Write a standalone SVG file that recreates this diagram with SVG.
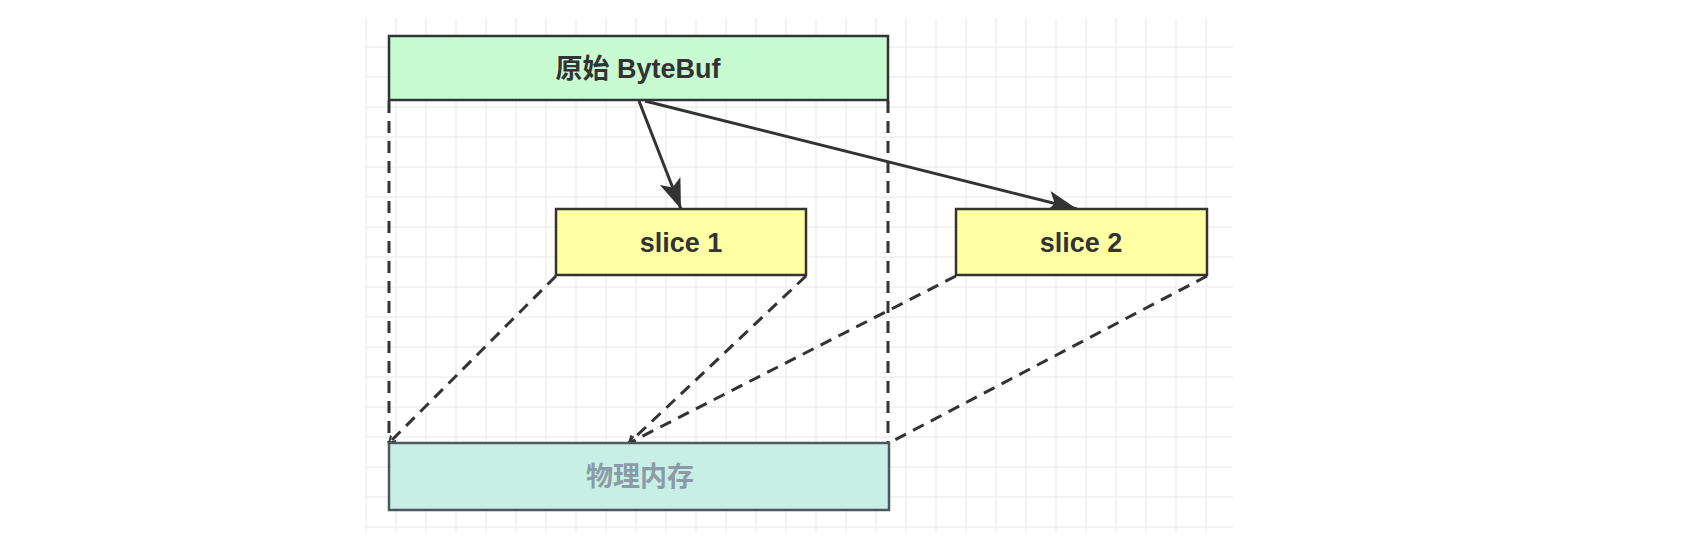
<svg xmlns="http://www.w3.org/2000/svg" width="1690" height="550" viewBox="0 0 1690 550">
<style>
.grid line{stroke:#efefef;stroke-width:1.5}
.box{stroke:#333333;stroke-width:2.5}
.lbl{font-family:"Liberation Sans","Noto Sans CJK SC",sans-serif;font-size:27px;font-weight:bold;fill:#333333;text-anchor:middle}
.solid{stroke:#333333;stroke-width:3;fill:none}
.dash{stroke:#333333;stroke-width:3;fill:none;stroke-dasharray:12 8}
</style>
<defs>
<marker id="block" markerUnits="userSpaceOnUse" markerWidth="34" markerHeight="26" refX="30" refY="11" orient="auto">
<path d="M0,0 L30,11 L0,22 L7,11 Z" fill="#333333"/>
</marker>
<marker id="open" markerUnits="userSpaceOnUse" markerWidth="10" markerHeight="10" refX="7" refY="4" orient="auto">
<path d="M0,0 L7,4 L0,8" fill="none" stroke="#333333" stroke-width="2"/>
</marker>
</defs>
<rect width="1690" height="550" fill="#ffffff"/>
<g class="grid">
<line x1="366" y1="18" x2="366" y2="532"/><line x1="396" y1="18" x2="396" y2="532"/><line x1="426" y1="18" x2="426" y2="532"/><line x1="456" y1="18" x2="456" y2="532"/><line x1="486" y1="18" x2="486" y2="532"/><line x1="516" y1="18" x2="516" y2="532"/><line x1="546" y1="18" x2="546" y2="532"/><line x1="576" y1="18" x2="576" y2="532"/><line x1="606" y1="18" x2="606" y2="532"/><line x1="636" y1="18" x2="636" y2="532"/><line x1="666" y1="18" x2="666" y2="532"/><line x1="696" y1="18" x2="696" y2="532"/><line x1="726" y1="18" x2="726" y2="532"/><line x1="756" y1="18" x2="756" y2="532"/><line x1="786" y1="18" x2="786" y2="532"/><line x1="816" y1="18" x2="816" y2="532"/><line x1="846" y1="18" x2="846" y2="532"/><line x1="876" y1="18" x2="876" y2="532"/><line x1="906" y1="18" x2="906" y2="532"/><line x1="936" y1="18" x2="936" y2="532"/><line x1="966" y1="18" x2="966" y2="532"/><line x1="996" y1="18" x2="996" y2="532"/><line x1="1026" y1="18" x2="1026" y2="532"/><line x1="1056" y1="18" x2="1056" y2="532"/><line x1="1086" y1="18" x2="1086" y2="532"/><line x1="1116" y1="18" x2="1116" y2="532"/><line x1="1146" y1="18" x2="1146" y2="532"/><line x1="1176" y1="18" x2="1176" y2="532"/><line x1="1206" y1="18" x2="1206" y2="532"/>
<line x1="366" y1="47" x2="1233" y2="47"/><line x1="366" y1="77" x2="1233" y2="77"/><line x1="366" y1="107" x2="1233" y2="107"/><line x1="366" y1="137" x2="1233" y2="137"/><line x1="366" y1="167" x2="1233" y2="167"/><line x1="366" y1="197" x2="1233" y2="197"/><line x1="366" y1="227" x2="1233" y2="227"/><line x1="366" y1="257" x2="1233" y2="257"/><line x1="366" y1="287" x2="1233" y2="287"/><line x1="366" y1="317" x2="1233" y2="317"/><line x1="366" y1="347" x2="1233" y2="347"/><line x1="366" y1="377" x2="1233" y2="377"/><line x1="366" y1="407" x2="1233" y2="407"/><line x1="366" y1="437" x2="1233" y2="437"/><line x1="366" y1="467" x2="1233" y2="467"/><line x1="366" y1="497" x2="1233" y2="497"/><line x1="366" y1="527" x2="1233" y2="527"/>
</g>
<g id="connectors">
<path class="dash" d="M389,101 L389,443"/>
<path class="dash" d="M888,101 L888,443"/>
<path class="dash" d="M556,276 L389,443" marker-end="url(#open)"/>
<path class="dash" d="M806,276 L629,443" marker-end="url(#open)"/>
<path class="dash" d="M956,276 L629,443" marker-end="url(#open)"/>
<path class="dash" d="M1207,276 L889,443"/>
<path class="solid" d="M639,101 L681,209" marker-end="url(#block)"/>
<path class="solid" d="M645,101 L1077,209" marker-end="url(#block)"/>
</g>
<g id="original">
<rect class="box" x="389" y="36" width="499" height="64" fill="#c9fbd3"/>
<text class="lbl" x="638" y="78">原始 ByteBuf</text>
</g>
<g id="slice1">
<rect class="box" x="556" y="209" width="250" height="66" fill="#ffffa3"/>
<text class="lbl" x="681" y="252">slice 1</text>
</g>
<g id="slice2">
<rect class="box" x="956" y="209" width="251" height="66" fill="#ffffa3"/>
<text class="lbl" x="1081" y="252">slice 2</text>
</g>
<g id="memory">
<rect x="389" y="443" width="500" height="67" fill="#c7efe5" stroke="#4f575e" stroke-width="2.5"/>
<text class="lbl" x="640" y="486" style="fill:#8b9ba6;font-size:27px">物理内存</text>
</g>
</svg>
